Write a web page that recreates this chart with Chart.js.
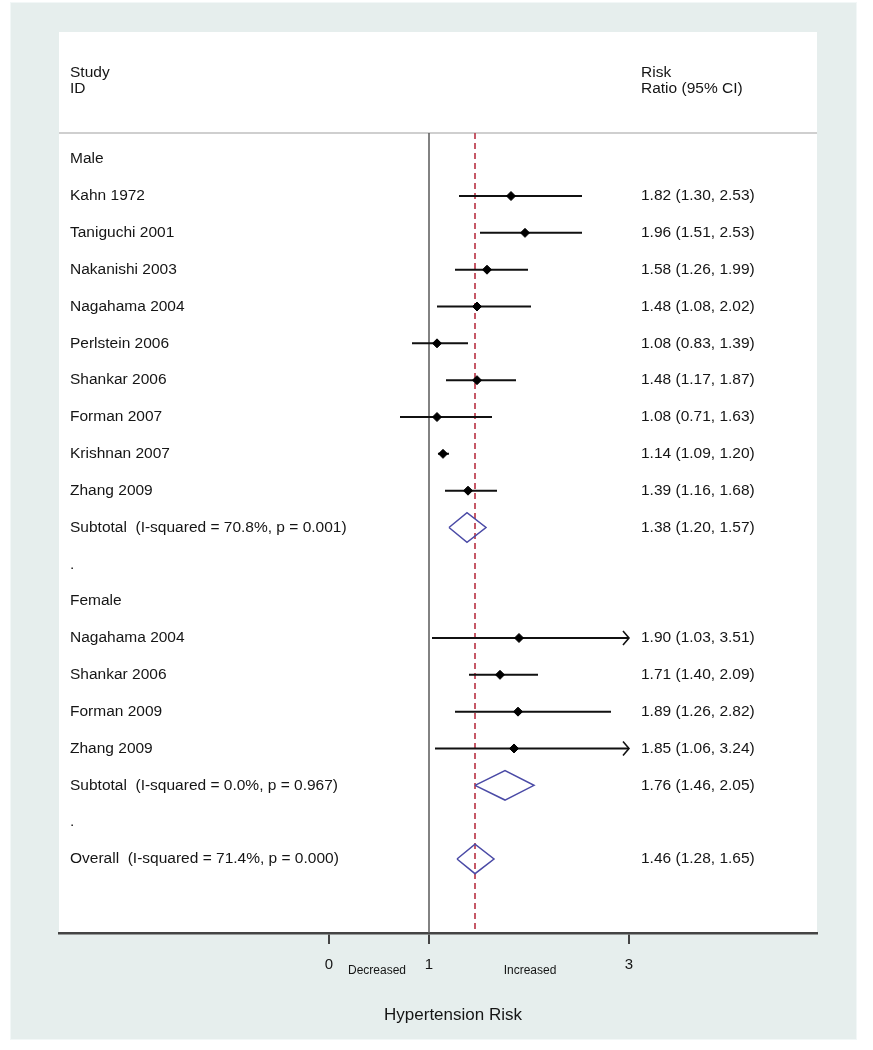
<!DOCTYPE html>
<html>
<head>
<meta charset="utf-8">
<script src="https://cdn.jsdelivr.net/npm/chart.js@4.4.0/dist/chart.umd.min.js"></script>
<style>
  html, body { margin: 0; padding: 0; background: #ffffff; }
  #wrap { width: 873px; height: 1050px; }
</style>
</head>
<body>
<div id="wrap"><canvas id="c" width="873" height="1050"></canvas></div>
<script>
// ---------------- DATA ----------------
const studyLabels = [
  "Male",
  "Kahn 1972",
  "Taniguchi 2001",
  "Nakanishi 2003",
  "Nagahama 2004",
  "Perlstein 2006",
  "Shankar 2006",
  "Forman 2007",
  "Krishnan 2007",
  "Zhang 2009",
  "Subtotal  (I-squared = 70.8%, p = 0.001)",
  ".",
  "Female",
  "Nagahama 2004",
  "Shankar 2006",
  "Forman 2009",
  "Zhang 2009",
  "Subtotal  (I-squared = 0.0%, p = 0.967)",
  ".",
  "Overall  (I-squared = 71.4%, p = 0.000)"
];
const rowTypes = ["head","study","study","study","study","study","study","study","study","study","sum","blank",
                  "head","study","study","study","study","sum","blank","sum"];
const riskRatio = [null,1.82,1.96,1.58,1.48,1.08,1.48,1.08,1.14,1.39,1.38,null,null,1.90,1.71,1.89,1.85,1.76,null,1.46];
const ciLower   = [null,1.30,1.51,1.26,1.08,0.83,1.17,0.71,1.09,1.16,1.20,null,null,1.03,1.40,1.26,1.06,1.46,null,1.28];
const ciUpper   = [null,2.53,2.53,1.99,2.02,1.39,1.87,1.63,1.20,1.68,1.57,null,null,3.51,2.09,2.82,3.24,2.05,null,1.65];
const xTickValues = [0, 1, 3];
const overallRR = 1.46;
const nullValue = 1;
const headerLeft = ["Study", "ID"];
const headerRight = ["Risk", "Ratio (95% CI)"];
const xAxisTitle = "Hypertension Risk";
const favourLeft = "Decreased";
const favourRight = "Increased";

// ---------------- LAYOUT CONSTANTS ----------------
const Y_MIN = -3.454, Y_MAX = 21.01;   // row-index range of the plot area
const Y_LINE_TOP = -0.71;              // where the vertical reference lines start
const DIAMOND_H = 0.40;                // half-height of pooled diamonds (row units)
const CLIP_MAX = xTickValues[xTickValues.length - 1];
const FONT = "'Liberation Sans', Arial, sans-serif";
const TXT = "#151515";

// ---------------- BUILD DATASETS ----------------
const ciLine = [], markers = [], diamonds = [];
rowTypes.forEach((t, i) => {
  if (t === "study") {
    ciLine.push({x: ciLower[i], y: i}, {x: Math.min(ciUpper[i], CLIP_MAX), y: i}, {x: NaN, y: NaN});
    markers.push({x: riskRatio[i], y: i});
  } else if (t === "sum") {
    diamonds.push({x: ciLower[i], y: i}, {x: riskRatio[i], y: i - DIAMOND_H},
                  {x: ciUpper[i], y: i}, {x: riskRatio[i], y: i + DIAMOND_H},
                  {x: ciLower[i], y: i}, {x: NaN, y: NaN});
  }
});
const fmt = v => v.toFixed(2);
const ciText = rowTypes.map((t, i) =>
  (t === "study" || t === "sum") ? `${fmt(riskRatio[i])} (${fmt(ciLower[i])}, ${fmt(ciUpper[i])})` : "");

// ---------------- PLUGIN (background, texts, arrows) ----------------
const forestDecor = {
  id: 'forestDecor',
  beforeDraw(chart) {
    const ctx = chart.ctx, a = chart.chartArea;
    ctx.save();
    ctx.fillStyle = "#ffffff";
    ctx.fillRect(0, 0, chart.width, chart.height);
    ctx.fillStyle = "#e6eeed";
    ctx.fillRect(10, 2, 847, 1038);
    ctx.strokeStyle = "#f2f7f7";
    ctx.lineWidth = 1;
    ctx.strokeRect(10.5, 2.5, 846, 1037);
    ctx.fillStyle = "#ffffff";
    ctx.fillRect(a.left, a.top, a.right - a.left, a.bottom - a.top);
    // separator under the header
    const ySep = chart.scales.y.getPixelForValue(Y_LINE_TOP);
    ctx.strokeStyle = "#cfcfcf";
    ctx.lineWidth = 2;
    ctx.beginPath();
    ctx.moveTo(a.left, ySep); ctx.lineTo(a.right, ySep);
    ctx.stroke();
    ctx.restore();
  },
  afterDatasetsDraw(chart) {
    const ctx = chart.ctx, xs = chart.scales.x, ys = chart.scales.y;
    ctx.save();
    // arrows for clipped CIs
    ctx.strokeStyle = "#111";
    ctx.lineWidth = 1.6;
    rowTypes.forEach((t, i) => {
      if (t === "study" && ciUpper[i] > CLIP_MAX) {
        const px = xs.getPixelForValue(CLIP_MAX), py = ys.getPixelForValue(i);
        ctx.beginPath();
        ctx.moveTo(px - 6, py - 7); ctx.lineTo(px, py); ctx.lineTo(px - 6, py + 7);
        ctx.stroke();
      }
    });
    // texts
    ctx.fillStyle = TXT;
    ctx.textBaseline = "middle";
    ctx.textAlign = "left";
    ctx.font = `15.5px ${FONT}`;
    ctx.fillText(headerLeft[0], 70, 73);
    ctx.fillText(headerLeft[1], 70, 89);
    ctx.fillText(headerRight[0], 641, 73);
    ctx.fillText(headerRight[1], 641, 89);
    studyLabels.forEach((s, i) => {
      const py = ys.getPixelForValue(i);
      ctx.fillText(s, 70, py);
      if (ciText[i]) ctx.fillText(ciText[i], 641, py);
    });
    // favour labels & axis title
    ctx.textAlign = "center";
    ctx.font = `12px ${FONT}`;
    ctx.fillText(favourLeft, 377, 971);
    ctx.fillText(favourRight, 530, 971);
    ctx.font = `17px ${FONT}`;
    ctx.fillText(xAxisTitle, 453, 1015);
    ctx.restore();
  }
};

// ---------------- CHART ----------------
new Chart(document.getElementById('c'), {
  type: 'scatter',
  data: {
    datasets: [
      { label: 'null line', data: [{x: nullValue, y: Y_LINE_TOP}, {x: nullValue, y: Y_MAX}],
        showLine: true, borderColor: '#5a5a5a', borderWidth: 1.5, pointRadius: 0, order: 5 },
      { label: 'overall line', data: [{x: overallRR, y: Y_LINE_TOP}, {x: overallRR, y: Y_MAX}],
        showLine: true, borderColor: '#c04858', borderWidth: 1.8, borderDash: [6, 4], pointRadius: 0, order: 4 },
      { label: 'CI', data: ciLine, showLine: true, spanGaps: false,
        borderColor: '#111', borderWidth: 2, pointRadius: 0, order: 3 },
      { label: 'pooled', data: diamonds, showLine: true, spanGaps: false,
        borderColor: '#4a4aa6', borderWidth: 1.5, pointRadius: 0, order: 2 },
      { label: 'RR', data: markers, showLine: false, pointStyle: 'rectRot', pointRadius: 4.5,
        backgroundColor: '#000', borderColor: '#000', borderWidth: 1, order: 1 }
    ]
  },
  options: {
    responsive: false,
    animation: false,
    events: [],
    layout: { padding: { left: 59, right: 56, top: 32, bottom: 0 } },
    plugins: { legend: { display: false }, tooltip: { enabled: false } },
    scales: {
      x: {
        type: 'linear', min: -2.70, max: 4.88,
        afterBuildTicks: s => { s.ticks = xTickValues.map(v => ({value: v})); },
        afterFit: s => { s.height = 117; },
        grid: { drawOnChartArea: false, drawTicks: true, tickLength: 11, color: '#444', lineWidth: 2 },
        border: { display: true, color: '#444', width: 2.5 },
        ticks: { color: TXT, font: { family: FONT, size: 15 }, padding: 12, autoSkip: false,
                 callback: v => String(v) }
      },
      y: { type: 'linear', display: false, reverse: true, min: Y_MIN, max: Y_MAX }
    }
  },
  plugins: [forestDecor]
});
</script>
</body>
</html>
